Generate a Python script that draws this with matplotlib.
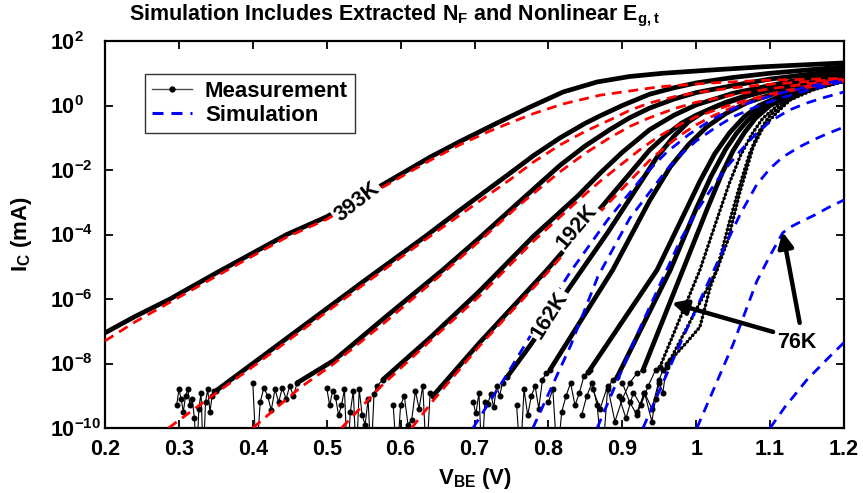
import numpy as np
import matplotlib
matplotlib.use('Agg')
import matplotlib.pyplot as plt
from matplotlib.lines import Line2D
from matplotlib.ticker import NullLocator

plt.rcParams['font.family'] = ['Liberation Sans', 'DejaVu Sans']
plt.rcParams['font.weight'] = 'bold'
plt.rcParams['mathtext.fontset'] = 'custom'
plt.rcParams['mathtext.rm'] = 'Liberation Sans:bold'
plt.rcParams['mathtext.bf'] = 'Liberation Sans:bold'
plt.rcParams['mathtext.it'] = 'Liberation Sans:bold'

# ---------------- measurement curves (V_BE [V], log10 I_C [mA]) ----------------
m1_v = [0.20, 0.24, 0.288, 0.35, 0.446, 0.50, 0.58, 0.64, 0.68, 0.73, 0.775, 0.82, 0.866, 0.91, 0.955, 1.02, 1.09, 1.20]
m1_l = [-7.05, -6.55, -6.0, -5.2, -4.0, -3.45, -2.4, -1.6, -1.12, -0.55, -0.05, 0.42, 0.73, 0.9, 1.0, 1.1, 1.2, 1.32]
m2_v = [0.35, 0.40, 0.45, 0.55, 0.634, 0.68, 0.748, 0.78, 0.816, 0.85, 0.87, 0.90, 0.937, 0.97, 1.0, 1.05, 1.1, 1.15, 1.2]
m2_l = [-8.85, -8.0, -7.15, -5.45, -4.05, -3.25, -2.1, -1.55, -1.0, -0.55, -0.32, 0.0, 0.35, 0.55, 0.7, 0.87, 1.0, 1.1, 1.2]
m3_v = [0.46, 0.51, 0.58, 0.657, 0.707, 0.76, 0.816, 0.85, 0.883, 0.91, 0.937, 0.97, 1.0, 1.05, 1.1, 1.2]
m3_l = [-8.6, -7.9, -6.55, -5.1, -4.1, -3.0, -1.85, -1.25, -0.75, -0.38, -0.08, 0.2, 0.4, 0.62, 0.82, 1.1]
m4_v = [0.576, 0.64, 0.707, 0.78, 0.84, 0.87, 0.90, 0.937, 0.97, 1.0, 1.05, 1.1, 1.15, 1.2]
m4_l = [-8.5, -7.2, -5.75, -4.05, -2.8, -2.1, -1.45, -0.75, -0.3, 0.02, 0.38, 0.62, 0.85, 1.02]
m5_v = [0.644, 0.707, 0.798, 0.874, 0.937, 0.96, 0.98, 1.0, 1.03, 1.07, 1.12, 1.2]
m5_l = [-9.0, -7.35, -5.1, -3.09, -1.38, -0.9, -0.55, -0.3, 0.0, 0.3, 0.6, 0.95]
m6_v = [0.744, 0.775, 0.829, 0.88, 0.947, 0.97, 0.99, 1.01, 1.04, 1.08, 1.13, 1.2]
m6_l = [-8.42, -7.45, -5.63, -3.95, -1.6, -0.95, -0.5, -0.2, 0.1, 0.4, 0.65, 0.92]
k7_v = [0.802, 0.887, 0.937, 0.965, 0.99, 1.015, 1.04, 1.07, 1.11, 1.2]
k7_l = [-8.2, -5.1, -2.95, -1.9, -1.2, -0.65, -0.25, 0.1, 0.4, 0.88]
k8_v = [0.856, 0.947, 0.985, 1.005, 1.025, 1.045, 1.065, 1.085, 1.12, 1.2]
k8_l = [-8.2, -5.1, -3.3, -2.35, -1.5, -0.85, -0.35, 0.0, 0.35, 0.84]
k9_v = [0.893, 0.965, 1.0, 1.02, 1.04, 1.055, 1.07, 1.09, 1.12, 1.2]
k9_l = [-8.42, -5.1, -3.2, -2.2, -1.35, -0.85, -0.45, -0.05, 0.3, 0.82]
k10_v = [0.928, 0.982, 1.015, 1.035, 1.05, 1.065, 1.08, 1.1, 1.13, 1.2]
k10_l = [-8.2, -5.1, -3.2, -2.1, -1.4, -0.85, -0.4, 0.0, 0.35, 0.8]
k11_v = [0.951, 1.005, 1.03, 1.045, 1.06, 1.075, 1.09, 1.11, 1.14, 1.2]
k11_l = [-8.1, -5.1, -3.4, -2.4, -1.55, -0.9, -0.4, 0.0, 0.4, 0.78]
k12_v = [0.960, 1.028, 1.045, 1.06, 1.072, 1.085, 1.1, 1.12, 1.15, 1.2]
k12_l = [-8.1, -5.1, -3.6, -2.4, -1.5, -0.8, -0.3, 0.1, 0.45, 0.76]
k13_v = [0.965, 0.985, 1.005, 1.019, 1.028, 1.043, 1.059, 1.077, 1.091, 1.11, 1.127, 1.16, 1.2]
k13_l = [-7.9, -7.4, -6.87, -5.63, -5.1, -4.17, -2.7, -1.29, -0.66, -0.2, 0.17, 0.5, 0.74]

# ---------------- noise floor readings (-11 = below axis) ----------------
n2_v = [0.297, 0.300, 0.303, 0.306, 0.309, 0.312, 0.315, 0.318, 0.321, 0.324, 0.327, 0.330, 0.333, 0.336, 0.339, 0.342, 0.345, 0.348]
n2_l = [-9.3, -8.8, -9.1, -9.5, -9.0, -8.8, -9.3, -9.1, -9.7, -11, -9.4, -8.9, -11, -9.2, -8.8, -9.5, -9.0, -8.85]
n3_v = [0.400, 0.405, 0.410, 0.415, 0.420, 0.425, 0.430, 0.435, 0.440, 0.445, 0.450, 0.455]
n3_l = [-8.6, -11, -9.2, -8.75, -9.0, -9.45, -8.8, -9.2, -8.75, -9.1, -8.7, -9.0]
n4_v = [0.500, 0.504, 0.508, 0.512, 0.516, 0.520, 0.524, 0.528, 0.532, 0.536, 0.540, 0.544, 0.548, 0.552, 0.556, 0.560, 0.564, 0.568]
n4_l = [-8.75, -9.3, -8.85, -9.05, -9.6, -9.3, -8.8, -11, -9.5, -8.85, -11, -8.8, -9.6, -9.9, -9.1, -11, -8.95, -8.7]
n5_v = [0.590, 0.595, 0.600, 0.605, 0.610, 0.615, 0.620, 0.625, 0.630, 0.635, 0.640]
n5_l = [-9.3, -11, -9.3, -9.0, -9.9, -9.75, -8.85, -9.4, -8.7, -11, -8.9]
n6_v = [0.698, 0.702, 0.706, 0.710, 0.714, 0.718, 0.722, 0.726, 0.730, 0.734, 0.738]
n6_l = [-9.2, -9.55, -8.9, -11, -9.2, -9.25, -8.95, -9.35, -8.7, -9.0, -8.6]
n7_v = [0.757, 0.762, 0.767, 0.772, 0.777, 0.782, 0.787, 0.792, 0.797]
n7_l = [-9.3, -11, -8.8, -9.6, -9.0, -8.7, -9.4, -8.5, -8.3]
n8_v = [0.800, 0.806, 0.812, 0.818, 0.824, 0.830, 0.836, 0.842, 0.848, 0.853]
n8_l = [-9.2, -8.8, -11, -9.5, -9.0, -8.6, -9.3, -8.9, -8.4, -8.25]
n9_v = [0.845, 0.852, 0.859, 0.866, 0.873, 0.880, 0.887]
n9_l = [-9.6, -9.0, -8.6, -9.3, -11, -8.8, -8.5]
n10_v = [0.86, 0.87, 0.88, 0.89, 0.90, 0.91, 0.92]
n10_l = [-8.8, -9.4, -8.7, -9.8, -9.1, -8.6, -8.3]
n11_v = [0.895, 0.905, 0.915, 0.925, 0.935, 0.945]
n11_l = [-9.0, -9.7, -8.9, -9.3, -8.7, -8.2]
n12_v = [0.90, 0.91, 0.92, 0.93, 0.94, 0.95, 0.955]
n12_l = [-8.6, -9.2, -9.6, -8.9, -9.4, -8.5, -8.2]
n13_v = [0.92, 0.93, 0.94, 0.945, 0.95, 0.955, 0.96]
n13_l = [-9.5, -8.9, -9.8, -9.1, -8.6, -8.9, -8.0]

# ---------------- simulated curves ----------------
s1_v = [0.20, 0.24, 0.288, 0.35, 0.446, 0.50, 0.58, 0.64, 0.68, 0.72, 0.75, 0.78, 0.82, 0.87, 0.95, 1.02, 1.09, 1.20]
s1_l = [-7.3, -6.72, -6.1, -5.3, -4.08, -3.53, -2.48, -1.7, -1.22, -0.8, -0.52, -0.25, 0.05, 0.32, 0.58, 0.7, 0.78, 0.84]
s2_v = [0.286, 0.35, 0.40, 0.45, 0.55, 0.634, 0.68, 0.748, 0.78, 0.816, 0.85, 0.883, 0.91, 0.937, 0.97, 1.0, 1.05, 1.1, 1.2]
s2_l = [-10.0, -8.92, -8.1, -7.25, -5.55, -4.15, -3.4, -2.3, -1.75, -1.22, -0.8, -0.45, -0.15, 0.08, 0.27, 0.4, 0.55, 0.66, 0.82]
s3_v = [0.40, 0.464, 0.51, 0.58, 0.657, 0.707, 0.76, 0.816, 0.85, 0.883, 0.91, 0.937, 0.97, 1.0, 1.05, 1.1, 1.15, 1.2]
s3_l = [-10.0, -8.75, -8.0, -6.7, -5.2, -4.2, -3.1, -2.05, -1.48, -1.0, -0.65, -0.38, -0.1, 0.1, 0.33, 0.52, 0.67, 0.8]
s4_v = [0.52, 0.576, 0.64, 0.707, 0.78, 0.84, 0.87, 0.90, 0.925, 0.95, 0.975, 1.0, 1.05, 1.1, 1.15, 1.2]
s4_l = [-10.0, -8.65, -7.3, -5.9, -4.2, -2.95, -2.35, -1.8, -1.35, -0.95, -0.62, -0.35, 0.05, 0.35, 0.6, 0.78]
s5_v = [0.615, 0.644, 0.707, 0.798, 0.874, 0.937, 0.96, 0.98, 1.0, 1.02, 1.05, 1.08, 1.12, 1.16, 1.2]
s5_l = [-10.0, -9.15, -7.45, -5.2, -3.2, -1.7, -1.25, -0.9, -0.6, -0.35, -0.05, 0.18, 0.42, 0.6, 0.76]
b1_v = [0.698, 0.745, 0.79, 0.83, 0.88, 0.93, 0.96, 0.99, 1.02, 1.05, 1.08, 1.12, 1.16, 1.2]
b1_l = [-10.0, -8.3, -6.6, -5.15, -3.55, -2.15, -1.45, -0.9, -0.45, -0.1, 0.15, 0.42, 0.62, 0.8]
b2_v = [0.779, 0.83, 0.867, 0.91, 0.96, 0.98, 1.0, 1.025, 1.05, 1.08, 1.11, 1.15, 1.2]
b2_l = [-10.0, -7.45, -5.3, -3.5, -2.0, -1.5, -1.1, -0.7, -0.35, -0.05, 0.2, 0.47, 0.75]
b3_v = [0.866, 0.92, 0.978, 1.0, 1.02, 1.04, 1.06, 1.08, 1.1, 1.125, 1.15, 1.175, 1.2]
b3_l = [-10.0, -7.1, -4.2, -3.3, -2.6, -1.95, -1.4, -0.9, -0.5, -0.15, 0.08, 0.26, 0.42]
b4_v = [0.928, 0.98, 1.036, 1.06, 1.082, 1.1, 1.117, 1.14, 1.16, 1.18, 1.2]
b4_l = [-10.0, -7.3, -4.5, -3.35, -2.45, -1.95, -1.6, -1.28, -1.05, -0.85, -0.67]
b5_v = [1.001, 1.05, 1.082, 1.1, 1.117, 1.125, 1.14, 1.16, 1.18, 1.2]
b5_l = [-10.0, -7.4, -5.45, -4.65, -3.95, -3.8, -3.62, -3.4, -3.15, -2.93]
b6_v = [1.10, 1.12, 1.136, 1.15, 1.165, 1.18, 1.2]
b6_l = [-10.0, -9.35, -8.9, -8.5, -8.15, -7.8, -7.35]

# ---------------- axis / labels ----------------
x_ticks = [0.2, 0.3, 0.4, 0.5, 0.6, 0.7, 0.8, 0.9, 1.0, 1.1, 1.2]
x_ticklabels = ['0.2', '0.3', '0.4', '0.5', '0.6', '0.7', '0.8', '0.9', '1', '1.1', '1.2']
y_exps = [-10, -8, -6, -4, -2, 0, 2]

temp_labels = ['393K', '192K', '162K']
temp_pos = [(0.541, -2.99), (0.839, -3.77), (0.802, -6.5)]
temp_rot = [38, 50, 58]
arrow_tails = [(1.104, -7.02), (1.140, -6.74)]
arrow_tips = [(0.967, -6.12), (1.117, -3.92)]
lbl76_pos = (1.136, -7.36)

fig = plt.figure(figsize=(8.63, 4.93), dpi=100)
ax = fig.add_axes([105/863, 1-428/493, 739/863, 387/493])
ax.set_yscale('log')


def P(l):
    return 10.0 ** np.asarray(l, dtype=float)


meas_solid = [(m1_v, m1_l), (m2_v, m2_l), (m3_v, m3_l), (m4_v, m4_l), (m5_v, m5_l),
              (m6_v, m6_l), (k7_v, k7_l), (k8_v, k8_l), (k9_v, k9_l), (k10_v, k10_l)]
meas_dotted = [(k11_v, k11_l), (k12_v, k12_l), (k13_v, k13_l)]
noises = [(n2_v, n2_l, m2_v, m2_l), (n3_v, n3_l, m3_v, m3_l), (n4_v, n4_l, m4_v, m4_l),
          (n5_v, n5_l, m5_v, m5_l), (n6_v, n6_l, m6_v, m6_l), (n7_v, n7_l, k7_v, k7_l),
          (n8_v, n8_l, k8_v, k8_l), (n9_v, n9_l, k9_v, k9_l), (n10_v, n10_l, k10_v, k10_l),
          (n11_v, n11_l, k11_v, k11_l), (n12_v, n12_l, k12_v, k12_l), (n13_v, n13_l, k13_v, k13_l)]

for nv, nl, cv, cl in noises:
    ax.plot(list(nv) + [cv[0]], P(list(nl) + [cl[0]]), color='k', lw=0.8,
            marker='o', ms=3.3, zorder=2)

for v, l in meas_solid:
    ax.plot(v, P(l), color='k', lw=3.4, solid_capstyle='round', solid_joinstyle='round', zorder=2)
for v, l in meas_dotted:
    ax.plot(v, P(l), color='k', lw=0.9, zorder=2)
    ax.plot(v, P(l), color='k', lw=2.6, linestyle=(0, (0.01, 1.15)),
            dash_capstyle='round', zorder=2)

for v, l in [(s1_v, s1_l), (s2_v, s2_l), (s3_v, s3_l), (s4_v, s4_l), (s5_v, s5_l)]:
    ax.plot(v, P(l), color='red', lw=2.0, dashes=(3.6, 2.4), zorder=3)
for v, l in [(b1_v, b1_l), (b2_v, b2_l), (b3_v, b3_l), (b4_v, b4_l), (b5_v, b5_l), (b6_v, b6_l)]:
    ax.plot(v, P(l), color='blue', lw=2.0, dashes=(3.6, 2.6), zorder=3)

for txt, (xv, lv), rot in zip(temp_labels, temp_pos, temp_rot):
    ax.text(xv, 10**lv, txt, rotation=rot, ha='center', va='center', fontsize=15.5,
            fontweight='bold', rotation_mode='anchor', zorder=6,
            bbox=dict(facecolor='white', edgecolor='none', pad=1.5))

ax.text(lbl76_pos[0], 10**lbl76_pos[1], '76K', ha='center', va='center', fontsize=15.5,
        fontweight='bold', zorder=6)
for (tx, tl), (hx, hl) in zip(arrow_tails, arrow_tips):
    ax.annotate('', xy=(hx, 10**hl), xytext=(tx, 10**tl),
                arrowprops=dict(arrowstyle='-|>,head_length=0.9,head_width=0.45', lw=3.2,
                                color='k', shrinkA=0, shrinkB=0), zorder=6)

ax.set_xlim(0.2, 1.2)
ax.set_ylim(1e-10, 1e2)
ax.set_xticks(x_ticks)
ax.set_xticklabels(x_ticklabels)
ax.set_yticks([10.0**e for e in y_exps])
ax.set_yticklabels([r'$\mathbf{10}^{\mathbf{%d}}$' % e for e in y_exps])
ax.yaxis.set_minor_locator(NullLocator())
ax.tick_params(direction='in', length=6, width=1.3, top=True, right=True, labelsize=15.5)
ax.tick_params(axis='x', pad=8)
ax.tick_params(axis='y', pad=39.6)
for lab in ax.get_yticklabels():
    lab.set_ha('left')
for s in ax.spines.values():
    s.set_linewidth(1.6)

ax.set_xlabel(r'V$_{\mathbf{BE}}$ (V)', fontsize=16, fontweight='bold', labelpad=4)
ax.set_ylabel(r'I$_{\mathbf{C}}$ (mA)', fontsize=16, fontweight='bold')
ax.yaxis.set_label_coords(-(105 - 34) / 739, 0.5)
fig.text(395/863, 1-20/493, r'Simulation Includes Extracted N$_{\mathbf{F}}$ and Nonlinear E$_{\mathbf{g,t}}$',
         ha='center', va='baseline', fontsize=15.5, fontweight='bold')

h_meas = Line2D([], [], color='0.3', lw=1.0, marker='o', ms=3.5, mfc='k', mec='k')
h_sim = Line2D([], [], color='blue', lw=2.2, dashes=(3.6, 2.6))
leg = ax.legend([h_meas, h_sim], ['Measurement', 'Simulation'], loc='upper left',
                bbox_to_anchor=(0.054, 0.915), borderaxespad=0, frameon=True,
                fancybox=False, edgecolor='k', handlelength=1.8, handletextpad=0.6,
                borderpad=0.3, labelspacing=0.15, numpoints=1, prop={'weight': 'bold', 'size': 16})
leg.get_frame().set_linewidth(1.0)
leg.set_zorder(7)

fig.savefig('out.png', dpi=100)
